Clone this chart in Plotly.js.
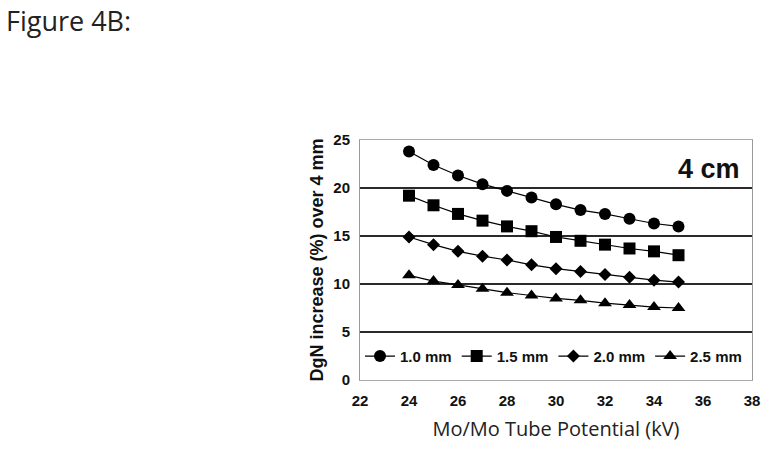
<!DOCTYPE html>
<html>
<head>
<meta charset="utf-8">
<script src="https://cdn.plot.ly/plotly-3.0.1.min.js"></script>
<style>
  body { margin: 0; background: #fff; }
  #chart { width: 777px; height: 454px; }
</style>
</head>
<body>
<div id="chart"></div>
<script>
// tube potential (kV)
let kv = [24, 25, 26, 27, 28, 29, 30, 31, 32, 33, 34, 35];

// DgN increase (%) over 4 mm, one array per filter thickness
let mm10 = [23.8, 22.4, 21.3, 20.4, 19.7, 19.0, 18.3, 17.7, 17.3, 16.8, 16.3, 16.0];
let mm15 = [19.2, 18.2, 17.3, 16.6, 16.0, 15.5, 14.9, 14.5, 14.1, 13.7, 13.4, 13.0];
let mm20 = [14.9, 14.1, 13.4, 12.9, 12.5, 12.0, 11.6, 11.3, 11.0, 10.7, 10.4, 10.2];
let mm25 = [10.9, 10.3, 9.9, 9.5, 9.1, 8.8, 8.5, 8.3, 8.0, 7.8, 7.6, 7.5];

let names = ["1.0 mm", "1.5 mm", "2.0 mm", "2.5 mm"];
let symbols = ["circle", "square", "diamond", "triangle-up"];
let sizes = [12, 12, 10, 12];
let series = [mm10, mm15, mm20, mm25];

let boldFont = { family: "Liberation Sans, Arial", size: 15, color: "#111", weight: "bold" };

//DATA
let data = series.map((ys, i) => ({
  x: kv,
  y: ys,
  mode: "lines+markers",
  name: names[i],
  line: { color: "#000", width: 1.2 },
  marker: { symbol: symbols[i], size: sizes[i], color: "#000" },
}));

//LAYOUT
let layout = {
  width: 777,
  height: 454,
  margin: { l: 360, r: 25, t: 140, b: 74 },
  paper_bgcolor: "#fff",
  plot_bgcolor: "#fff",
  showlegend: true,
  legend: {
    orientation: "h",
    x: 0.0,
    y: 0.03,
    xanchor: "left",
    yanchor: "bottom",
    bgcolor: "rgba(0,0,0,0)",
    font: { family: "Liberation Sans, Arial", size: 15, color: "#111", weight: "bold" },
    itemwidth: 30,
    traceorder: "normal",
  },
  xaxis: {
    range: [22, 38],
    dtick: 2,
    showgrid: false,
    zeroline: false,
    showline: true,
    linecolor: "#aaa",
    mirror: true,
    ticks: "outside",
    ticklen: 7,
    tickcolor: "rgba(0,0,0,0)",
    tickfont: boldFont,
    title: {
      text: "Mo/Mo Tube Potential (kV)",
      font: { family: "Open Sans, Noto Sans", size: 20, color: "#222" },
      standoff: 13,
    },
  },
  yaxis: {
    range: [0, 25],
    dtick: 5,
    showgrid: true,
    gridcolor: "#2a2a2a",
    gridwidth: 1.5,
    zeroline: false,
    showline: true,
    linecolor: "#999",
    mirror: true,
    ticks: "outside",
    ticklen: 6,
    tickcolor: "rgba(0,0,0,0)",
    tickfont: boldFont,
    title: {
      text: "DgN increase (%) over 4 mm",
      font: { family: "Liberation Sans, Arial", size: 18, color: "#111", weight: "bold" },
      standoff: 5,
    },
  },
  annotations: [
    {
      text: "4 cm",
      xref: "paper",
      yref: "paper",
      x: 0.975,
      y: 0.95,
      xanchor: "right",
      yanchor: "top",
      showarrow: false,
      font: { family: "Liberation Sans, Arial", size: 27, color: "#111", weight: "bold" },
    },
    {
      text: "Figure 4B:",
      xref: "paper",
      yref: "paper",
      x: -356 / 392,
      y: 1 + 140 / 240,
      xanchor: "left",
      yanchor: "top",
      showarrow: false,
      font: { family: "Open Sans, Noto Sans", size: 27, color: "#222" },
    },
  ],
};

let config = { displayModeBar: false, staticPlot: true };

Plotly.newPlot(document.getElementById("chart"), data, layout, config);
</script>
</body>
</html>
